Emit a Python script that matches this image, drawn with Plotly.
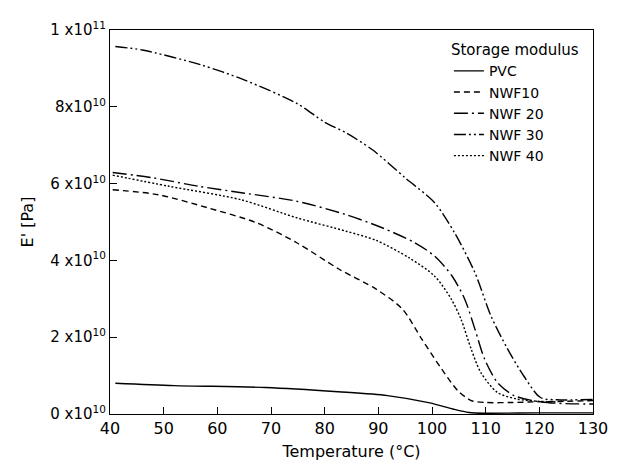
import plotly.graph_objects as go

pvc_T = [41, 52, 69, 82.5, 91.7, 99.6, 103.9, 106.9, 110, 120, 130]
pvc_E = [0.80, 0.74, 0.69, 0.58, 0.48, 0.29, 0.13, 0.04, 0.02, 0.03, 0.03]

nwf10_T = [40.5, 49, 58.2, 67.3, 74.8, 82.7, 89.6, 94.5, 98.1, 101.8, 104.8, 107.3, 110, 115, 120, 125, 130]
nwf10_E = [5.84, 5.71, 5.37, 4.98, 4.46, 3.77, 3.25, 2.73, 1.95, 1.17, 0.61, 0.35, 0.30, 0.30, 0.32, 0.33, 0.35]

nwf20_T = [40.5, 48, 56.5, 65.1, 74.8, 84, 90.7, 96.8, 100.5, 103.7, 106.1, 108, 109.8, 112.2, 115.3, 120, 125, 130]
nwf20_E = [6.29, 6.15, 5.93, 5.75, 5.54, 5.19, 4.85, 4.46, 4.11, 3.6, 2.99, 2.21, 1.43, 0.82, 0.48, 0.32, 0.27, 0.26]

nwf30_T = [41, 46, 57, 65, 74.8, 80, 84, 88.9, 95, 100.5, 104.2, 108, 111, 114.1, 117.1, 120.2, 123.3, 130]
nwf30_E = [9.57, 9.48, 9.09, 8.70, 8.09, 7.6, 7.32, 6.88, 6.15, 5.5, 4.72, 3.68, 2.55, 1.69, 0.99, 0.43, 0.37, 0.38]

nwf40_T = [40.5, 51, 64.4, 74.8, 84, 89.6, 95.7, 100.5, 103.6, 105.4, 107.3, 109.1, 112.2, 115.8, 120, 123]
nwf40_E = [6.22, 5.93, 5.58, 5.11, 4.76, 4.52, 4.07, 3.59, 2.99, 2.47, 1.69, 1.08, 0.56, 0.39, 0.33, 0.32]

x_ticks = [40, 50, 60, 70, 80, 90, 100, 110, 120, 130]
y_ticks = [0, 2, 4, 6, 8, 10]
y_ticktext = ["0 x10<sup>10</sup>", "2 x10<sup>10</sup>", "4 x10<sup>10</sup>",
              "6 x10<sup>10</sup>", "8x10<sup>10</sup>", "1 x10<sup>11</sup>"]

series = [
    ("PVC", pvc_T, pvc_E, "solid"),
    ("NWF10", nwf10_T, nwf10_E, "6px,4px"),
    ("NWF 20", nwf20_T, nwf20_E, "14px,4px,2px,4px"),
    ("NWF 30", nwf30_T, nwf30_E, "12px,3px,2px,3px,2px,3px"),
    ("NWF 40", nwf40_T, nwf40_E, "2px,2px"),
]

fig = go.Figure()
for name, t, e, dash in series:
    fig.add_trace(go.Scatter(x=t, y=e, mode="lines", name=name,
                             line=dict(color="black", width=1.4, dash=dash,
                                       shape="spline", smoothing=0.8)))

font = "DejaVu Sans"
fig.update_layout(
    width=620, height=470,
    margin=dict(l=110, r=20, t=30, b=55),
    paper_bgcolor="white", plot_bgcolor="white",
    font=dict(family=font, size=15, color="black"),
    showlegend=True,
    legend=dict(x=0.975, y=0.985, xanchor="right", yanchor="top",
                bgcolor="rgba(0,0,0,0)", font=dict(size=14),
                title=dict(text="Storage modulus", font=dict(size=15)),
                tracegroupgap=0),
    xaxis=dict(range=[40, 130], tickvals=x_ticks, ticks="inside", ticklen=7,
               showgrid=False, zeroline=False, showline=True, linecolor="black",
               linewidth=1.3, mirror=True, tickcolor="black",
               tickfont=dict(size=16),
               title=dict(text="Temperature (°C)", standoff=8, font=dict(size=16))),
    yaxis=dict(range=[0, 10], tickvals=y_ticks, ticktext=y_ticktext,
               ticks="inside", ticklen=7, showgrid=False, zeroline=False,
               showline=True, linecolor="black", linewidth=1.3, mirror=True,
               tickcolor="black", title=dict(text="E' [Pa]", standoff=12, font=dict(size=16))),
)

fig.write_html("out.html")
